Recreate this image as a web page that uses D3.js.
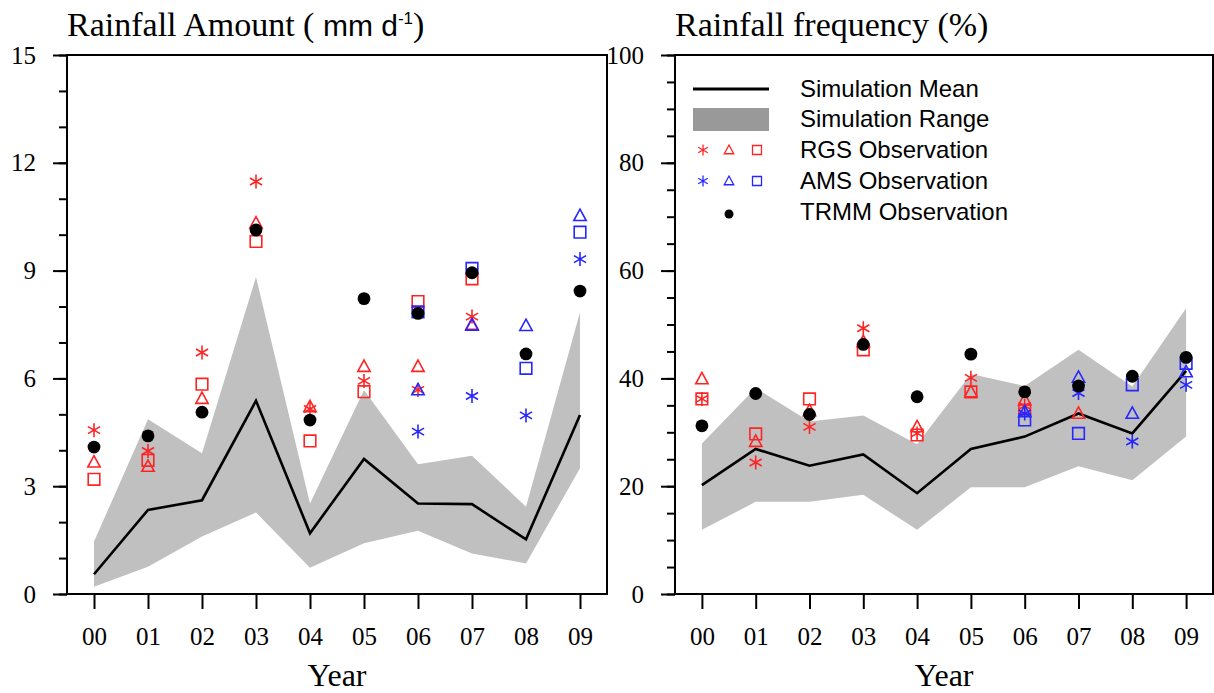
<!DOCTYPE html>
<html>
<head>
<meta charset="utf-8">
<script src="https://cdn.jsdelivr.net/npm/d3@7"></script>
<style>
  html, body { margin: 0; padding: 0; background: #fff; }
  svg { display: block; }
</style>
</head>
<body>
<svg id="chart" width="1214" height="693"></svg>
<script>
// ---- data ---------------------------------------------------------------
const years = ["00", "01", "02", "03", "04", "05", "06", "07", "08", "09"];

// Rainfall amount (mm/day)
const amtMean  = [0.55, 2.34, 2.61, 5.38, 1.69, 3.76, 2.52, 2.50, 1.52, 4.98];
const amtLow   = [0.20, 0.76, 1.60, 2.27, 0.73, 1.41, 1.76, 1.13, 0.85, 3.50];
const amtHigh  = [1.46, 4.86, 3.92, 8.82, 2.52, 5.68, 3.61, 3.85, 2.43, 7.84];
const amtTRMM  = [4.09, 4.40, 5.06, 10.13, 4.84, 8.22, 7.81, 8.94, 6.68, 8.43];
const amtRgsStar = [4.56, 3.98, 6.72, 11.48, 5.15, 5.93, 5.68, 7.72, null, null];
const amtRgsTri  = [3.67, 3.55, 5.44, 10.32, 5.21, 6.33, 6.33, 7.50, null, null];
const amtRgsSq   = [3.19, 3.72, 5.84, 9.81, 4.26, 5.63, 8.14, 8.77, null, null];
const amtAmsStar = [null, null, null, null, null, null, 4.52, 5.51, 4.97, 9.32];
const amtAmsTri  = [null, null, null, null, null, null, 5.68, 7.48, 7.47, 10.53];
const amtAmsSq   = [null, null, null, null, null, null, 7.85, 9.06, 6.28, 10.07];

// Rainfall frequency (%)
const frqMean  = [20.2, 26.9, 23.8, 25.9, 18.7, 26.9, 29.2, 33.5, 29.8, 41.4];
const frqLow   = [11.9, 17.1, 17.1, 18.4, 11.9, 19.8, 19.8, 23.7, 21.1, 29.2];
const frqHigh  = [27.9, 38.2, 32.0, 33.1, 27.8, 40.8, 38.6, 45.3, 38.5, 53.0];
const frqTRMM  = [31.2, 37.2, 33.3, 46.3, 36.6, 44.5, 37.5, 38.6, 40.4, 43.9];
const frqRgsStar = [36.2, 24.4, 31.0, 49.3, 29.8, 40.1, 34.9, null, null, null];
const frqRgsTri  = [39.9, 28.3, 34.0, 46.8, 31.0, 37.5, 36.0, 33.5, null, null];
const frqRgsSq   = [36.2, 29.7, 36.2, 45.3, 29.5, 37.5, 34.1, null, null, null];
const frqAmsStar = [null, null, null, null, null, null, 33.5, 37.3, 28.3, 38.8];
const frqAmsTri  = [null, null, null, null, null, null, 33.8, 40.2, 33.5, 41.2];
const frqAmsSq   = [null, null, null, null, null, null, 32.3, 29.8, 38.8, 42.8];

const amtTicks = [0, 3, 6, 9, 12, 15];
const amtMinor = d3.range(0, 16, 1);
const frqTicks = [0, 20, 40, 60, 80, 100];
const frqMinor = d3.range(0, 101, 5);

const legendItems = ["Simulation Mean", "Simulation Range", "RGS Observation", "AMS Observation", "TRMM Observation"];

// ---- styling -------------------------------------------------------------
const RED = "#ff2424";
const BLUE = "#2626ff";
const BAND = "#c0c0c0";
const SERIF = "'Liberation Serif', 'Times New Roman', serif";
const SANS = "'Liberation Sans', Arial, Helvetica, sans-serif";

const svg = d3.select("#chart");

// custom marker shapes (size = half-width in px)
const shapes = {
  star: {
    draw(ctx, r) {
      const t = r / 2, u = t * Math.sqrt(3);
      ctx.moveTo(0, r); ctx.lineTo(0, -r);
      ctx.moveTo(-u, -t); ctx.lineTo(u, t);
      ctx.moveTo(-u, t); ctx.lineTo(u, -t);
    }
  },
  tri: {
    draw(ctx, r) {
      ctx.moveTo(0, -r);
      ctx.lineTo(r * 0.95, r * 0.75);
      ctx.lineTo(-r * 0.95, r * 0.75);
      ctx.closePath();
    }
  },
  square: {
    draw(ctx, r) {
      ctx.rect(-r, -r, 2 * r, 2 * r);
    }
  },
  dot: {
    draw(ctx, r) {
      ctx.moveTo(r, 0);
      ctx.arc(0, 0, r, 0, 2 * Math.PI);
    }
  }
};

function marker(g, type, r, color, x, y) {
  const p = g.append("path")
    .attr("transform", `translate(${x},${y})`)
    .attr("d", d3.symbol().type(shapes[type]).size(r)());
  if (type === "dot") {
    p.attr("fill", color).attr("stroke", "none");
  } else {
    p.attr("fill", "none").attr("stroke", color).attr("stroke-width", 1.6);
  }
  return p;
}

function panel(opts) {
  const { x0, x1, y0, y1, ymax, major, minor, mean, low, high, trmm, rgs, ams } = opts;
  const x = d3.scaleLinear().domain([-0.5, 9.5]).range([x0, x1]);
  const y = d3.scaleLinear().domain([0, ymax]).range([y1, y0]);
  const g = svg.append("g");

  // simulation range band
  const idx = d3.range(years.length);
  g.append("path")
    .datum(idx)
    .attr("fill", BAND)
    .attr("d", d3.area().x(i => x(i)).y0(i => y(low[i])).y1(i => y(high[i])));

  // simulation mean line
  g.append("path")
    .datum(idx)
    .attr("fill", "none")
    .attr("stroke", "#000")
    .attr("stroke-width", 2.6)
    .attr("stroke-linejoin", "miter")
    .attr("d", d3.line().x(i => x(i)).y(i => y(mean[i])));

  // observations
  const series = [
    [rgs[0], "star", RED], [rgs[1], "tri", RED], [rgs[2], "square", RED],
    [ams[0], "star", BLUE], [ams[1], "tri", BLUE], [ams[2], "square", BLUE]
  ];
  const sizes = { star: 7, tri: 6.5, square: 5.8, dot: 6.4 };
  series.forEach(([vals, type, color]) => {
    vals.forEach((v, i) => {
      if (v == null) return;
      marker(g, type, sizes[type], color, x(i), y(v));
    });
  });
  trmm.forEach((v, i) => marker(g, "dot", sizes.dot, "#000", x(i), y(v)));

  // frame
  g.append("rect")
    .attr("x", x0).attr("y", y0)
    .attr("width", x1 - x0).attr("height", y1 - y0)
    .attr("fill", "none").attr("stroke", "#000").attr("stroke-width", 2);

  // y axis: minor ticks then labelled major ticks
  const yMinor = g.append("g").attr("transform", `translate(${x0},0)`)
    .call(d3.axisLeft(y).tickValues(minor).tickSize(8).tickFormat(""));
  const yMajor = g.append("g").attr("transform", `translate(${x0},0)`)
    .call(d3.axisLeft(y).tickValues(major).tickSize(14).tickPadding(17).tickFormat(d3.format("d")));

  // x axis
  const xAx = g.append("g").attr("transform", `translate(0,${y1})`)
    .call(d3.axisBottom(x).tickValues(idx).tickSize(15).tickPadding(18).tickFormat(i => years[i]));

  [yMinor, yMajor, xAx].forEach(a => {
    a.select(".domain").remove();
    a.selectAll("line").attr("stroke", "#000").attr("stroke-width", 2);
    a.selectAll("text").attr("fill", "#000").style("font-family", SERIF).style("font-size", "25px");
  });

  // axis title
  g.append("text")
    .attr("x", (x0 + x1) / 2).attr("y", 686)
    .attr("text-anchor", "middle")
    .style("font-family", SERIF).style("font-size", "32px")
    .text("Year");

  return { g, x, y };
}

// left: rainfall amount
panel({
  x0: 67, x1: 607, y0: 55, y1: 594, ymax: 15,
  major: amtTicks, minor: amtMinor,
  mean: amtMean, low: amtLow, high: amtHigh, trmm: amtTRMM,
  rgs: [amtRgsStar, amtRgsTri, amtRgsSq],
  ams: [amtAmsStar, amtAmsTri, amtAmsSq]
});

// right: rainfall frequency
panel({
  x0: 675, x1: 1213, y0: 55, y1: 594, ymax: 100,
  major: frqTicks, minor: frqMinor,
  mean: frqMean, low: frqLow, high: frqHigh, trmm: frqTRMM,
  rgs: [frqRgsStar, frqRgsTri, frqRgsSq],
  ams: [frqAmsStar, frqAmsTri, frqAmsSq]
});

// panel titles
const t1 = svg.append("text").attr("x", 67).attr("y", 36)
  .style("font-family", SERIF).style("font-size", "34px");
t1.append("tspan").text("Rainfall Amount ( ");
t1.append("tspan").style("font-family", SANS).style("font-size", "30px").text("mm d");
t1.append("tspan").style("font-family", SANS).style("font-size", "17px").attr("dy", -12).text("-1");
t1.append("tspan").attr("dy", 12).text(")");

svg.append("text").attr("x", 675).attr("y", 36)
  .style("font-family", SERIF).style("font-size", "34px")
  .text("Rainfall frequency (%)");

// legend
const lg = svg.append("g");
const rowY = [89, 119, 150, 181, 212];
lg.append("line").attr("x1", 693).attr("x2", 769).attr("y1", rowY[0]).attr("y2", rowY[0])
  .attr("stroke", "#000").attr("stroke-width", 3);
lg.append("rect").attr("x", 693).attr("y", 108).attr("width", 76).attr("height", 23)
  .attr("fill", "#999");
[[rowY[2], RED], [rowY[3], BLUE]].forEach(([yy, c]) => {
  marker(lg, "star", 5.5, c, 703, yy).attr("stroke-width", 1.3);
  marker(lg, "tri", 5, c, 729, yy).attr("stroke-width", 1.3);
  marker(lg, "square", 4.5, c, 757, yy).attr("stroke-width", 1.3);
});
marker(lg, "dot", 4.5, "#000", 729, rowY[4] + 2);
lg.selectAll("text.item").data(legendItems).join("text")
  .attr("class", "item")
  .attr("x", 800)
  .attr("y", (d, i) => rowY[i] + 8)
  .style("font-family", SANS).style("font-size", "24px")
  .text(d => d);
</script>
</body>
</html>
